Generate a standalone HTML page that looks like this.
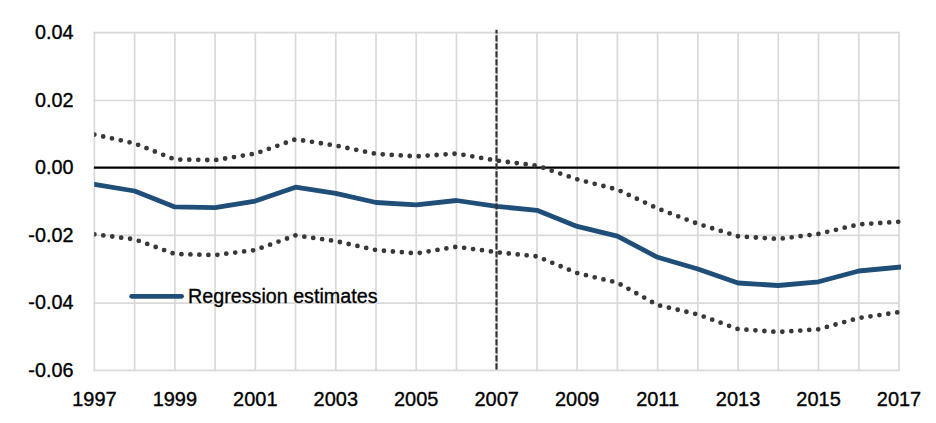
<!DOCTYPE html>
<html><head><meta charset="utf-8"><style>
html,body{margin:0;padding:0;background:#fff;}
svg{display:block;}
text{font-family:"Liberation Sans",sans-serif;font-size:20.5px;fill:#000;stroke:#000;stroke-width:0.35px;}
</style></head><body>
<svg width="936" height="423" viewBox="0 0 936 423">
<defs><clipPath id="pa"><rect x="94.2" y="0" width="806.8" height="423"/></clipPath></defs>
<rect width="936" height="423" fill="#fff"/>
<g stroke="#d9d9d9" stroke-width="1.7" fill="none">
<line x1="94.40" y1="31.75" x2="94.40" y2="371.25"/>
<line x1="134.63" y1="31.75" x2="134.63" y2="371.25"/>
<line x1="174.86" y1="31.75" x2="174.86" y2="371.25"/>
<line x1="215.09" y1="31.75" x2="215.09" y2="371.25"/>
<line x1="255.32" y1="31.75" x2="255.32" y2="371.25"/>
<line x1="295.55" y1="31.75" x2="295.55" y2="371.25"/>
<line x1="335.78" y1="31.75" x2="335.78" y2="371.25"/>
<line x1="376.01" y1="31.75" x2="376.01" y2="371.25"/>
<line x1="416.24" y1="31.75" x2="416.24" y2="371.25"/>
<line x1="456.47" y1="31.75" x2="456.47" y2="371.25"/>
<line x1="496.70" y1="31.75" x2="496.70" y2="371.25"/>
<line x1="536.93" y1="31.75" x2="536.93" y2="371.25"/>
<line x1="577.16" y1="31.75" x2="577.16" y2="371.25"/>
<line x1="617.39" y1="31.75" x2="617.39" y2="371.25"/>
<line x1="657.62" y1="31.75" x2="657.62" y2="371.25"/>
<line x1="697.85" y1="31.75" x2="697.85" y2="371.25"/>
<line x1="738.08" y1="31.75" x2="738.08" y2="371.25"/>
<line x1="778.31" y1="31.75" x2="778.31" y2="371.25"/>
<line x1="818.54" y1="31.75" x2="818.54" y2="371.25"/>
<line x1="858.77" y1="31.75" x2="858.77" y2="371.25"/>
<line x1="899.00" y1="31.75" x2="899.00" y2="371.25"/>
<line x1="93.55" y1="32.60" x2="899.85" y2="32.60"/>
<line x1="93.55" y1="100.50" x2="899.85" y2="100.50"/>
<line x1="93.55" y1="235.30" x2="899.85" y2="235.30"/>
<line x1="93.55" y1="303.10" x2="899.85" y2="303.10"/>
<line x1="93.55" y1="370.40" x2="899.85" y2="370.40"/>
</g>
<line x1="93.90" y1="167.6" x2="899.50" y2="167.6" stroke="#000" stroke-width="2.2"/>
<g clip-path="url(#pa)" fill="none">
<polyline points="94.40,134.60 134.63,143.40 174.86,159.50 215.09,160.10 255.32,153.60 295.55,139.30 335.78,145.60 376.01,153.90 416.24,156.40 456.47,153.60 496.70,160.60 536.93,165.60 577.16,179.30 617.39,189.60 657.62,208.50 697.85,223.80 738.08,236.30 778.31,239.00 818.54,233.90 858.77,224.40 899.00,221.80" stroke="#383838" stroke-width="4.8" stroke-linecap="round" stroke-dasharray="0 8.993"/>
<polyline points="94.40,234.30 134.63,239.30 174.86,254.00 215.09,255.10 255.32,250.00 295.55,235.40 335.78,241.10 376.01,250.10 416.24,253.40 456.47,246.80 496.70,252.20 536.93,256.40 577.16,273.10 617.39,282.70 657.62,305.10 697.85,314.40 738.08,329.10 778.31,332.00 818.54,329.30 858.77,318.00 899.00,312.20" stroke="#383838" stroke-width="4.8" stroke-linecap="round" stroke-dasharray="0 8.993"/>
<polyline points="94.40,184.40 134.63,191.00 174.86,206.90 215.09,207.60 255.32,201.10 295.55,187.20 335.78,193.30 376.01,202.50 416.24,204.90 456.47,200.50 496.70,206.40 536.93,210.30 577.16,226.40 617.39,236.20 657.62,257.30 697.85,269.00 738.08,283.00 778.31,285.50 818.54,281.80 858.77,271.00 899.00,267.20" stroke="#1F4E79" stroke-width="4.8" stroke-linejoin="round" stroke-linecap="square"/>
</g>
<path d="M496.5 369.6 V29.8" stroke="#333" stroke-width="2.2" stroke-dasharray="6.3 1.7"/>
<line x1="131.6" y1="296.35" x2="181.6" y2="296.35" stroke="#1F4E79" stroke-width="4.7" stroke-linecap="round"/>
<text x="188" y="302.6" textLength="189.5" lengthAdjust="spacingAndGlyphs">Regression estimates</text>
<text x="73.4" y="39.1" text-anchor="end" transform="translate(73.4 0) scale(0.965 1) translate(-73.4 0)">0.04</text>
<text x="73.4" y="106.6" text-anchor="end" transform="translate(73.4 0) scale(0.965 1) translate(-73.4 0)">0.02</text>
<text x="73.4" y="174.1" text-anchor="end" transform="translate(73.4 0) scale(0.965 1) translate(-73.4 0)">0.00</text>
<text x="73.4" y="241.6" text-anchor="end" transform="translate(73.4 0) scale(0.965 1) translate(-73.4 0)">-0.02</text>
<text x="73.4" y="309.1" text-anchor="end" transform="translate(73.4 0) scale(0.965 1) translate(-73.4 0)">-0.04</text>
<text x="73.4" y="376.6" text-anchor="end" transform="translate(73.4 0) scale(0.965 1) translate(-73.4 0)">-0.06</text>
<text x="94.40" y="406.3" text-anchor="middle" transform="translate(94.40 0) scale(0.975 1) translate(-94.40 0)">1997</text>
<text x="174.86" y="406.3" text-anchor="middle" transform="translate(174.86 0) scale(0.975 1) translate(-174.86 0)">1999</text>
<text x="255.32" y="406.3" text-anchor="middle" transform="translate(255.32 0) scale(0.975 1) translate(-255.32 0)">2001</text>
<text x="335.78" y="406.3" text-anchor="middle" transform="translate(335.78 0) scale(0.975 1) translate(-335.78 0)">2003</text>
<text x="416.24" y="406.3" text-anchor="middle" transform="translate(416.24 0) scale(0.975 1) translate(-416.24 0)">2005</text>
<text x="496.70" y="406.3" text-anchor="middle" transform="translate(496.70 0) scale(0.975 1) translate(-496.70 0)">2007</text>
<text x="577.16" y="406.3" text-anchor="middle" transform="translate(577.16 0) scale(0.975 1) translate(-577.16 0)">2009</text>
<text x="657.62" y="406.3" text-anchor="middle" transform="translate(657.62 0) scale(0.975 1) translate(-657.62 0)">2011</text>
<text x="738.08" y="406.3" text-anchor="middle" transform="translate(738.08 0) scale(0.975 1) translate(-738.08 0)">2013</text>
<text x="818.54" y="406.3" text-anchor="middle" transform="translate(818.54 0) scale(0.975 1) translate(-818.54 0)">2015</text>
<text x="899.00" y="406.3" text-anchor="middle" transform="translate(899.00 0) scale(0.975 1) translate(-899.00 0)">2017</text>
</svg>
</body></html>
